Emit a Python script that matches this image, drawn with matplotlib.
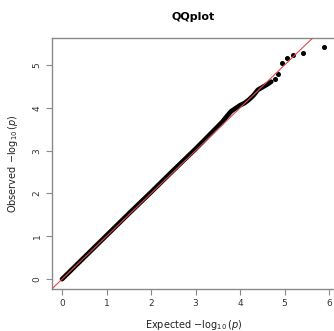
import matplotlib
matplotlib.use('Agg')
import matplotlib.pyplot as plt

# -- datos --------------------------------------------------------------------
# cuerpo denso de la QQ (esperado vs observado, -log10 p)
expected = [0.0, 0.5, 1.0, 1.5, 2.0, 2.5, 3.0, 3.2, 3.4, 3.6, 3.7, 3.8,
            3.9, 4.0, 4.1, 4.2, 4.3, 4.4, 4.5, 4.6, 4.7]
observed = [0.0, 0.51, 1.02, 1.53, 2.03, 2.54, 3.04, 3.25, 3.46, 3.67, 3.80,
            3.92, 3.99, 4.06, 4.11, 4.19, 4.29, 4.42, 4.48, 4.54, 4.61]
# cola: puntos sueltos
tail_exp = [4.79, 4.85, 4.94, 5.06, 5.19, 5.42, 5.89]
tail_obs = [4.67, 4.79, 5.04, 5.16, 5.23, 5.28, 5.42]

xticks = [0, 1, 2, 3, 4, 5, 6]
yticks = [0, 1, 2, 3, 4, 5]

GRIS = '#8a8a8a'

fig = plt.figure(figsize=(3.34, 3.31), dpi=100, facecolor='white')
ax = fig.add_axes([52 / 334, 42 / 331, 284 / 334, 251 / 331])

ax.plot(expected, observed, color='black', lw=3.4, solid_capstyle='round',
        solid_joinstyle='round', zorder=2)
ax.plot(tail_exp, tail_obs, 'o', color='black', ms=2.6, zorder=2)

# diagonal y = x
ax.axline((0, 0), (1, 1), color='#e04848', lw=0.8, zorder=3)

ax.set_xlim(-0.225, 6.155)
ax.set_ylim(-0.23, 5.63)
ax.set_xticks(xticks)
ax.set_yticks(yticks)
ax.tick_params(colors=GRIS, labelcolor='#333333', labelsize=6.5,
               length=4, width=0.8, direction='out')
for lbl in ax.get_yticklabels():
    lbl.set_rotation(90)
    lbl.set_va('center')
for s in ax.spines.values():
    s.set_color(GRIS)
    s.set_linewidth(1.0)

ax.set_xlabel(r'Expected $-\log_{10}(p)$', fontsize=7, color='#222222',
              labelpad=7)
ax.set_ylabel(r'Observed $-\log_{10}(p)$', fontsize=7, color='#222222',
              labelpad=9)
fig.text(193 / 334, 1 - 17 / 331, 'QQplot', ha='center', va='center',
         fontsize=8, fontweight='bold')

plt.savefig('out.png', dpi=100, facecolor='white')
